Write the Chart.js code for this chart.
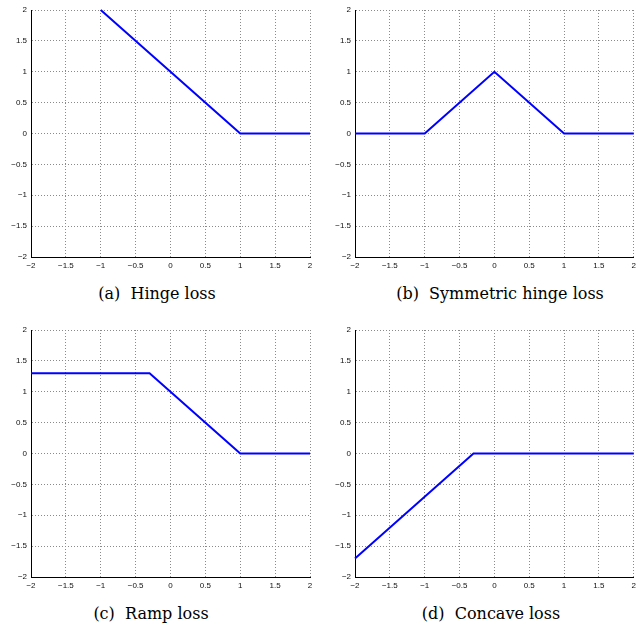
<!DOCTYPE html>
<html>
<head>
<meta charset="utf-8">
<script src="https://cdn.jsdelivr.net/npm/chart.js@4"></script>
<style>
  body { margin: 0; background: #fff; }
  #wrap { position: relative; width: 640px; height: 630px; }
  .panel { position: absolute; }
  .cap { position: absolute; font-family: "DejaVu Serif", "Liberation Serif", serif; font-size: 16px; color: #000;
         transform: translate(-50%, -50%); white-space: pre; }
</style>
</head>
<body>
<div id="wrap">
  <div class="panel" style="left:0;top:0"><canvas id="c1" width="320" height="277"></canvas></div>
  <div class="panel" style="left:320px;top:0"><canvas id="c2" width="320" height="277"></canvas></div>
  <div class="panel" style="left:0;top:320px"><canvas id="c3" width="320" height="277"></canvas></div>
  <div class="panel" style="left:320px;top:320px"><canvas id="c4" width="320" height="277"></canvas></div>
  <div class="cap" style="left:157px;top:293px">(a)  Hinge loss</div>
  <div class="cap" style="left:500px;top:293px">(b)  Symmetric hinge loss</div>
  <div class="cap" style="left:151px;top:613px">(c)  Ramp loss</div>
  <div class="cap" style="left:491px;top:613px">(d)  Concave loss</div>
</div>
<script>
const axisTicks = [-2, -1.5, -1, -0.5, 0, 0.5, 1, 1.5, 2];

const hingeX = [-1, 1, 2];
const hingeY = [2, 0, 0];
const symX = [-2, -1, 0, 1, 2];
const symY = [0, 0, 1, 0, 0];
const rampX = [-2, -0.3, 1, 2];
const rampY = [1.3, 1.3, 0, 0];
const concaveX = [-2, -0.3, 2];
const concaveY = [-1.7, 0, 0];

function fmt(v) {
    return String(v).replace('-', '\u2212');
}

function axis(isY, yWidth) {
    return {
        type: 'linear',
        min: -2,
        max: 2,
        afterBuildTicks: function (scale) {
            scale.ticks = axisTicks.map(function (v) { return { value: v }; });
        },
        afterFit: function (scale) {
            if (isY) scale.width = yWidth;
            else scale.height = 20;
        },
        ticks: {
            autoSkip: false,
            maxRotation: 0,
            padding: 4,
            color: '#111',
            font: { family: 'Liberation Sans', size: 8 },
            callback: function (v) { return fmt(v); }
        },
        grid: {
            color: '#8a8a8a',
            lineWidth: 1,
            drawTicks: false
        },
        border: {
            display: true,
            color: '#000',
            width: 1,
            dash: [1, 2]
        }
    };
}

function makeChart(id, xs, ys, yWidth, padRight) {
    const ctx = document.getElementById(id);
    new Chart(ctx, {
        type: 'scatter',
        data: {
            datasets: [{
                data: xs.map(function (x, i) { return { x: x, y: ys[i] }; }),
                showLine: true,
                borderColor: '#0000ff',
                borderWidth: 2,
                pointRadius: 0,
                tension: 0,
                clip: 3
            }]
        },
        options: {
            responsive: false,
            animation: false,
            layout: { padding: { top: 10, right: padRight, left: 0, bottom: 0 } },
            plugins: { legend: { display: false }, tooltip: { enabled: false } },
            scales: {
                x: axis(false),
                y: axis(true, yWidth)
            }
        }
    });
}

makeChart('c1', hingeX, hingeY, 31, 10);
makeChart('c2', symX, symY, 35, 5);
makeChart('c3', rampX, rampY, 31, 10);
makeChart('c4', concaveX, concaveY, 35, 5);
</script>
</body>
</html>
